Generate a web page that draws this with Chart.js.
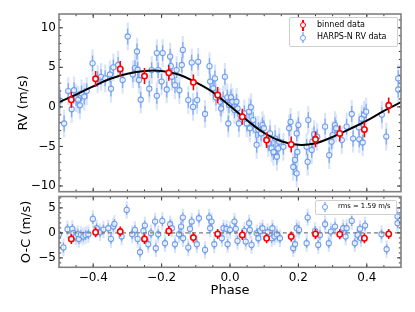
<!DOCTYPE html>
<html><head><meta charset="utf-8">
<script src="https://cdn.jsdelivr.net/npm/chart.js@4.4.1/dist/chart.umd.min.js"></script>
<style>
html,body{margin:0;padding:0;background:#fff;}
#wrap{position:relative;width:415px;height:312px;overflow:hidden;font-family:"DejaVu Sans",sans-serif;}
#c1{position:absolute;left:0;top:0;}
#c2{position:absolute;left:0;top:193px;}
.leg{position:absolute;background:rgba(255,255,255,0.85);border:1px solid #cfcfcf;border-radius:2px;}
.lt{position:absolute;white-space:nowrap;color:#000;line-height:1;}
.eb{position:absolute;width:1.5px;}
.ci{position:absolute;border-radius:50%;background:#fff;box-sizing:border-box;}
</style></head>
<body>
<div id="wrap">
<canvas id="c1" width="415" height="193"></canvas>
<canvas id="c2" width="415" height="119"></canvas>
<div class="leg" style="left:289px;top:17px;width:107px;height:28px;"></div>
<div class="eb" style="left:302px;top:19.5px;height:11px;background:#ff0000;"></div>
<div class="ci" style="left:299.7px;top:22px;width:6px;height:6px;border:1.5px solid #ff0000;"></div>
<div class="lt" style="left:317px;top:20.5px;font-size:8px;">binned data</div>
<div class="eb" style="left:302px;top:32px;height:11px;background:rgba(100,149,237,0.55);"></div>
<div class="ci" style="left:299.7px;top:34.7px;width:6px;height:6px;border:1.2px solid #6d9eeb;"></div>
<div class="lt" style="left:317px;top:33.3px;font-size:8px;">HARPS-N RV data</div>
<div class="leg" style="left:315px;top:200px;width:80px;height:13px;"></div>
<div class="eb" style="left:324.3px;top:202px;height:10px;background:rgba(100,149,237,0.55);"></div>
<div class="ci" style="left:322px;top:204px;width:6px;height:6px;border:1.2px solid #6d9eeb;"></div>
<div class="lt" style="left:338px;top:203px;font-size:6.8px;">rms = 1.59 m/s</div>
</div>
<script>
// ---- data ----
const phaseRV = [-0.497,-0.485,-0.473,-0.463,-0.456,-0.45,-0.444,-0.439,-0.434,-0.426,-0.419,-0.402,-0.387,-0.377,-0.365,-0.351,-0.348,-0.341,-0.327,-0.314,-0.299,-0.284,-0.278,-0.272,-0.27,-0.266,-0.261,-0.236,-0.229,-0.214,-0.214,-0.21,-0.2,-0.197,-0.185,-0.175,-0.173,-0.17,-0.161,-0.156,-0.148,-0.141,-0.138,-0.122,-0.112,-0.108,-0.096,-0.093,-0.073,-0.06,-0.058,-0.049,-0.044,-0.041,-0.029,-0.026,-0.02,-0.015,-0.008,-0.005,-0.003,0.003,0.007,0.013,0.019,0.022,0.026,0.042,0.049,0.056,0.058,0.061,0.068,0.075,0.078,0.083,0.091,0.095,0.099,0.112,0.117,0.122,0.127,0.132,0.137,0.141,0.144,0.156,0.173,0.177,0.185,0.19,0.195,0.195,0.197,0.2,0.224,0.227,0.229,0.239,0.241,0.246,0.255,0.278,0.29,0.297,0.3,0.307,0.31,0.327,0.341,0.356,0.36,0.377,0.378,0.385,0.388,0.392,0.398,0.444,0.457,0.492,0.492];
const rvValues = [0.8,-2.1,2.0,-0.3,2.1,1.1,0.9,0.2,1.7,1.3,2.0,5.5,3.5,3.8,3.6,4.1,2.3,5.0,5.3,3.4,8.9,4.1,4.9,7.0,4.7,3.4,0.9,2.3,4.65,1.4,6.8,4.65,3.2,6.8,2.2,6.35,5.15,3.8,2.75,4.65,2.1,5.3,7.2,0.86,5.6,0.0,0.86,5.7,-0.9,5.15,3.2,2.35,3.6,1.2,0.65,-0.2,0.95,3.8,1.2,-2.1,0.23,1.2,0.65,-0.4,0.65,-0.2,-2.1,-0.82,-2.1,-0.6,-2.7,-0.06,-1.67,-2.9,-4.8,-2.9,-3.35,-2.3,-2.7,-4.6,-3.35,-5.25,-5.7,-4.0,-6.3,-5.25,-4.4,-5.05,-2.7,-1.9,-7.6,-6.7,-3.35,-8.4,-5.7,-2.3,-5.05,-6.95,-1.67,-5.45,-4.4,-3.45,-3.8,-2.5,-6.1,-4.4,-3.57,-2.3,-2.7,-4.2,-2.5,-0.9,-4.0,-2.6,-4.1,-1.5,-4.5,-1.0,-0.6,-1.0,-3.75,3.6,2.2];

const phaseOC = [-0.5,-0.487,-0.475,-0.461,-0.458,-0.451,-0.445,-0.442,-0.436,-0.429,-0.422,-0.414,-0.401,-0.39,-0.38,-0.37,-0.356,-0.348,-0.341,-0.338,-0.317,-0.302,-0.286,-0.278,-0.27,-0.263,-0.253,-0.249,-0.239,-0.231,-0.219,-0.217,-0.21,-0.198,-0.19,-0.175,-0.17,-0.161,-0.149,-0.143,-0.138,-0.137,-0.122,-0.117,-0.112,-0.097,-0.091,-0.073,-0.061,-0.058,-0.054,-0.046,-0.024,-0.019,-0.01,-0.007,0.0,0.013,0.017,0.022,0.042,0.046,0.056,0.058,0.063,0.078,0.083,0.088,0.095,0.11,0.122,0.124,0.13,0.137,0.146,0.185,0.19,0.195,0.202,0.224,0.227,0.249,0.258,0.263,0.278,0.289,0.295,0.307,0.331,0.338,0.341,0.356,0.365,0.373,0.38,0.383,0.395,0.443,0.458,0.49,0.49];
const ocValues = [-0.27,-2.9,0.73,0.8,-0.07,-0.73,-0.27,-1.2,-0.4,-0.73,-0.4,-0.27,2.8,0.93,0.13,0.67,0.93,-1.2,1.27,1.8,-0.73,4.6,-0.27,0.6,-1.2,-3.87,0.4,1.47,-2.27,-0.07,2.27,-3.07,-0.27,2.4,-2.07,1.73,0.93,-2.27,-0.27,1.27,3.07,-1.07,-2.93,0.8,2.27,-2.27,2.93,-3.4,3.07,0.93,2.27,-2.27,-1.07,0.93,0.8,-2.27,0.6,2.27,0.8,-1.6,0.4,-1.73,1.93,0.6,-2.4,-0.07,-1.07,0.4,0.93,0.13,-1.07,0.93,-0.73,-0.27,-1.07,-3.07,-2.27,0.93,0.6,-2.07,3.07,0.4,-2.4,-0.4,1.73,-2.07,0.27,1.27,0.93,-0.73,0.93,2.4,-2.07,-0.4,0.8,-1.07,1.47,-0.27,-3.27,3.27,1.93];

const binPhase = [-0.464,-0.393,-0.321,-0.25,-0.179,-0.107,-0.036,0.036,0.107,0.179,0.25,0.321,0.393,0.464];
const binRV = [0.9,3.55,4.8,3.9,4.3,3.1,1.5,-1.25,-4.2,-4.75,-4.1,-3.35,-2.85,0.2];
const binOC = [-1.2,0.13,0.27,-1.2,0.4,-0.93,-0.2,-0.4,-1.07,-0.73,-0.2,-0.27,-1.07,-0.2];

const modelPhase = [-0.5,-0.45,-0.4,-0.35,-0.3,-0.25,-0.2,-0.15,-0.1,-0.05,0.0,0.05,0.1,0.15,0.2,0.25,0.3,0.35,0.4,0.45,0.5];
const modelRV = [0.6,1.55,2.6,3.55,4.2,4.55,4.55,4.1,3.1,1.85,0.1,-1.7,-3.3,-4.35,-4.8,-4.6,-3.8,-2.8,-1.75,-0.5,0.6];

const rvTicks = [-10,-5,0,5,10];
const ocTicks = [-5,0,5];
const phaseTicks = [-0.4,-0.2,0.0,0.2,0.4];

const errBlueOuter = 1.75, errBlueInner = 1.0, errBin = 1.0;

// ---- helpers ----
function pts(xs, ys){ return xs.map((x,i)=>({x:x,y:ys[i]})); }
function errSegs(xs, ys, e){
  const out=[];
  xs.forEach((x,i)=>{ out.push({x:x,y:ys[i]-e},{x:x,y:ys[i]+e},{x:x,y:null}); });
  return out;
}
const minus = s => String(s).replace('-', '\u2212');

const framePlugin = {
  id:'frame',
  afterDraw(chart, args, opts){
    const {ctx, chartArea:a, scales} = chart;
    const xs = scales.x, ys = scales.y;
    const yMajor = opts.yticks || [];
    ctx.save();
    ctx.strokeStyle = '#3a3a3a'; ctx.lineWidth = 1;
    const ln = (x1,y1,x2,y2)=>{ctx.beginPath();ctx.moveTo(x1,y1);ctx.lineTo(x2,y2);ctx.stroke();};
    const xt = (v,len)=>{const p=xs.getPixelForValue(v); ln(p,a.bottom,p,a.bottom-len); ln(p,a.top,p,a.top+len);};
    const yt = (v,len)=>{const p=ys.getPixelForValue(v); ln(a.left,p,a.left+len,p); ln(a.right,p,a.right-len,p);};
    for(let k=Math.ceil(xs.min/0.05); k*0.05<=xs.max+1e-9; k++){ const v=k*0.05; if(v>xs.min+1e-6 && v<xs.max-1e-6) xt(v, 2.2); }
    phaseTicks.forEach(v=>xt(v,4));
    for(let k=Math.ceil(ys.min); k<=ys.max; k++){ yt(k, 2.2); }
    yMajor.forEach(v=>yt(v,4));
    ctx.strokeStyle = '#808080'; ctx.lineWidth = 1.6;
    ctx.strokeRect(a.left, a.top, a.right-a.left, a.bottom-a.top);
    ctx.restore();
  }
};

function makeChart(id, cfg){
  const datasets = [
    {label:'bin', data:pts(binPhase, cfg.bin), showLine:false, pointRadius:2.7, pointBorderWidth:1.6,
     pointBackgroundColor:'#ffffff', pointBorderColor:'#ff0000', order:0},
    {label:'binerr', data:errSegs(binPhase, cfg.bin, errBin), showLine:true, pointRadius:0, borderColor:'#ff0000', borderWidth:1.6, spanGaps:false, order:1},
    {label:'line', data:cfg.line, showLine:true, pointRadius:0, borderColor:cfg.lineColor, borderWidth:cfg.lineWidth, borderDash:cfg.lineDash, tension:0.4, order:2},
    {label:'blue', data:pts(cfg.px, cfg.py), showLine:false, pointRadius:2.6, pointBorderWidth:1.1,
     pointBackgroundColor:'rgba(255,255,255,0.7)', pointBorderColor:'rgba(100,149,237,0.9)', order:3},
    {label:'blueIn', data:errSegs(cfg.px, cfg.py, errBlueInner), showLine:true, pointRadius:0, borderColor:'rgba(100,149,237,0.75)', borderWidth:1.3, spanGaps:false, order:4},
    {label:'blueOut', data:errSegs(cfg.px, cfg.py, errBlueOuter), showLine:true, pointRadius:0, borderColor:'rgba(100,149,237,0.25)', borderWidth:2.2, spanGaps:false, order:5}
  ];
  return new Chart(document.getElementById(id), {
    type:'scatter',
    data:{datasets},
    plugins:[framePlugin],
    options:{
      responsive:false, animation:false, devicePixelRatio:1,
      layout:{autoPadding:false, padding:{top:cfg.padTop,right:14,left:0,bottom:0}},
      plugins:{legend:{display:false}, tooltip:{enabled:false}, frame:{yticks:cfg.yticks}},
      scales:{
        x:{type:'linear', min:-0.5, max:0.5,
           grid:{display:false, drawTicks:false}, border:{display:false},
           afterBuildTicks:s=>{s.ticks = phaseTicks.map(v=>({value:v}));},
           afterFit:s=>{s.height = cfg.xHeight; s.paddingLeft = 0; s.paddingRight = 0;},
           ticks:{display:cfg.showX, padding:3, color:'#000', font:{family:'DejaVu Sans', size:12},
                  maxRotation:0, autoSkip:false, callback:v=>minus(Number(v).toFixed(1))},
           title:{display:cfg.showX, text:'Phase', color:'#000', font:{family:'DejaVu Sans', size:13}, padding:{top:0,bottom:14}}},
        y:{type:'linear', min:cfg.ymin, max:cfg.ymax,
           grid:{display:false, drawTicks:false}, border:{display:false},
           afterBuildTicks:s=>{s.ticks = cfg.yticks.map(v=>({value:v}));},
           afterFit:s=>{s.width = 59; s.paddingTop = 0; s.paddingBottom = 0;},
           ticks:{padding:3, color:'#000', font:{family:'DejaVu Sans', size:12}, autoSkip:false, callback:v=>minus(v)},
           title:{display:true, text:cfg.ytitle, color:'#000', font:{family:'DejaVu Sans', size:13}, padding:{top:cfg.ytitlePad,bottom:0}}}
      }
    }
  });
}

makeChart('c1', {bin:binRV, px:phaseRV, py:rvValues, line:pts(modelPhase, modelRV), lineColor:'#000000', lineWidth:2, lineDash:[],
  ymin:-10.72, ymax:11.74, yticks:rvTicks, ytitle:'RV (m/s)', ytitlePad:16, padTop:14, xHeight:1.3, showX:false});
makeChart('c2', {bin:binOC, px:phaseOC, py:ocValues, line:[{x:-0.5,y:0},{x:0.5,y:0}], lineColor:'#7a7a7a', lineWidth:1.2, lineDash:[4,3],
  ymin:-6.88, ymax:7.28, yticks:ocTicks, ytitle:'O-C (m/s)', ytitlePad:19, padTop:3.5, xHeight:44.7, showX:true});
</script>
</body></html>
